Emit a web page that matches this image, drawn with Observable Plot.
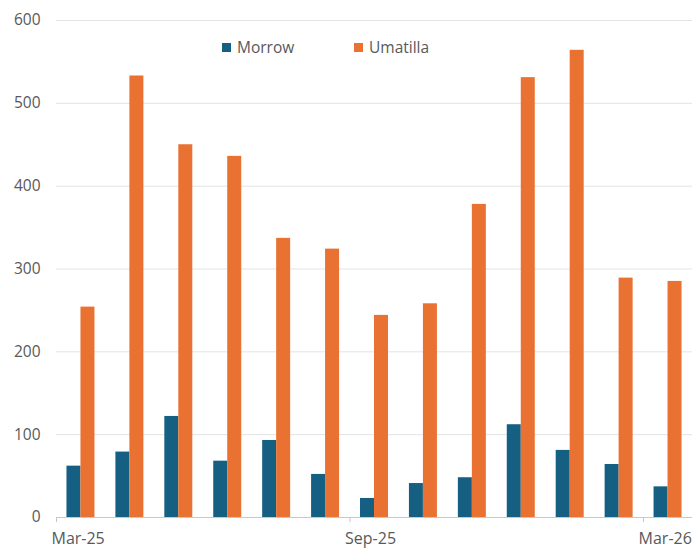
<!DOCTYPE html>
<html>
<head>
<meta charset="utf-8">
<script src="https://cdn.jsdelivr.net/npm/d3@7"></script>
<script src="https://cdn.jsdelivr.net/npm/@observablehq/plot@0.6"></script>
<style>
  html, body { margin: 0; padding: 0; background: white; }
  #wrap { position: relative; width: 694px; height: 550px; overflow: hidden; font-family: 'Open Sans', sans-serif; }
  .lg { position: absolute; top: 36px; font-size: 15.5px; color: #595959; display: flex; align-items: center; white-space: nowrap; }
  .sw { display: inline-block; width: 9px; height: 9px; margin-right: 6px; }
</style>
</head>
<body>
<div id="wrap"></div>
<script>
const months = ["Mar-25","Apr-25","May-25","Jun-25","Jul-25","Aug-25","Sep-25","Oct-25","Nov-25","Dec-25","Jan-26","Feb-26","Mar-26"];
const morrow = [62, 79, 122, 68, 93, 52, 23, 41, 48, 112, 81, 64, 37];
const umatilla = [254, 533, 450, 436, 337, 324, 244, 258, 378, 531, 564, 289, 285];
const yTicks = [0, 100, 200, 300, 400, 500, 600];
const xTickLabels = ["Mar-25", "Sep-25", "Mar-26"];
const seriesNames = ["Morrow", "Umatilla"];
const seriesColors = ["#156082", "#E97132"];

const rows = months.map((m, i) => ({month: m, morrow: morrow[i], umatilla: umatilla[i]}));

const W = 694, H = 550, mL = 56, mR = 2, mT = 20, mB = 33;
const pInner = 0.714, pOuter = 0.357;
const step = (W - mL - mR) / months.length;
const half = step * (1 - pInner) / 2;

const chart = Plot.plot({
  width: W, height: H,
  marginLeft: mL, marginRight: mR, marginTop: mT, marginBottom: mB,
  style: {fontFamily: "'Open Sans', sans-serif", fontSize: "15.5px", color: "#595959", background: "white"},
  x: {domain: months, paddingInner: pInner, paddingOuter: pOuter, round: false, label: null, axis: null},
  y: {domain: [0, 600], label: null, axis: null},
  marks: [
    Plot.gridY(yTicks.slice(1), {stroke: "#e3e3e3", strokeOpacity: 1}),
    Plot.axisY(yTicks, {tickSize: 0, tickPadding: 16, label: null}),
    Plot.ruleY([0], {stroke: "#c8c8c8"}),
    Plot.barY(rows, {x: "month", y: "morrow", fill: seriesColors[0], dx: -half}),
    Plot.barY(rows, {x: "month", y: "umatilla", fill: seriesColors[1], dx: half}),
    Plot.axisX(xTickLabels, {tickSize: 5, stroke: "#c8c8c8", tickFormat: () => "", dx: -step / 2, label: null}),
    Plot.axisX(xTickLabels, {tickSize: 0, tickPadding: 15, textAnchor: "start", fontSize: "16px", dx: -step / 2 - 5, label: null})
  ]
});
const wrap = document.getElementById("wrap");
wrap.appendChild(chart);

const legendX = [222, 354];
seriesNames.forEach((name, i) => {
  const d = document.createElement("div");
  d.className = "lg";
  d.style.left = legendX[i] + "px";
  d.innerHTML = `<span class="sw" style="background:${seriesColors[i]}"></span>${name}`;
  wrap.appendChild(d);
});
</script>
</body>
</html>
